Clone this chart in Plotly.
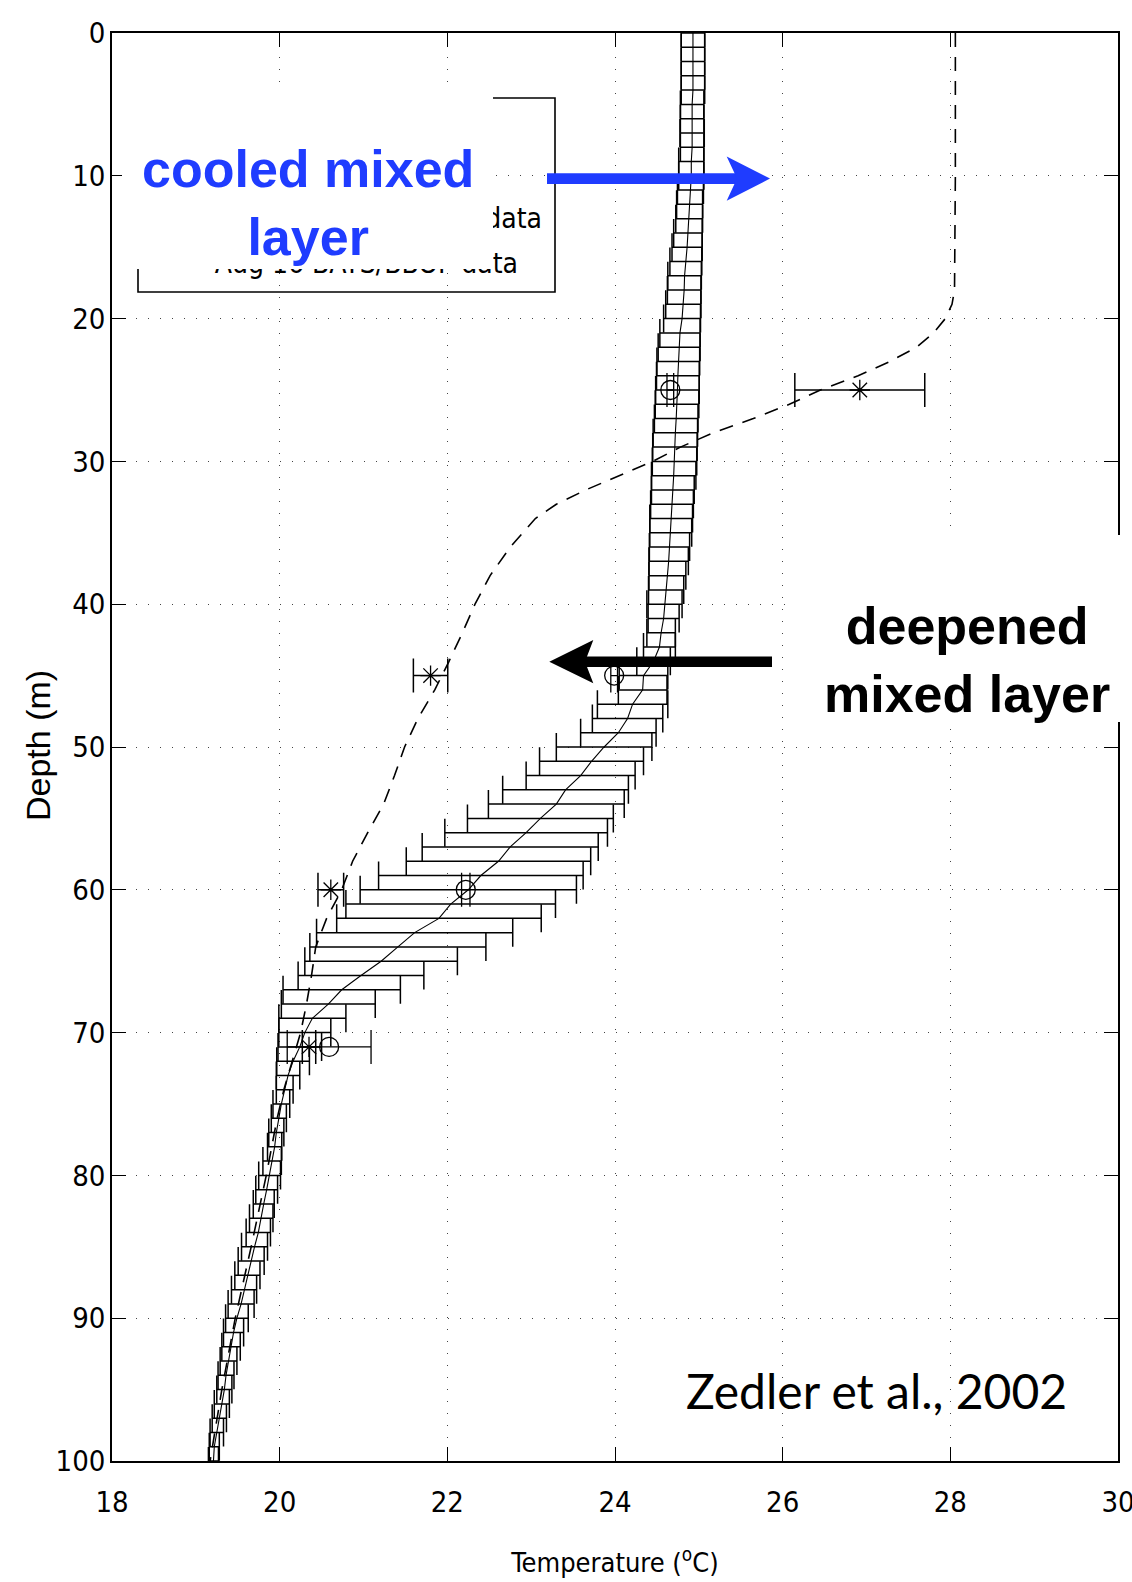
import plotly.graph_objects as go

# ---------------- data ----------------
depth_main = list(range(0, 101))
temp_mean = [24.93, 24.93, 24.93, 24.93, 24.93, 24.92, 24.92, 24.92, 24.92, 24.91,
             24.91, 24.90, 24.89, 24.885, 24.87, 24.86, 24.845, 24.83, 24.825, 24.815,
             24.80, 24.775, 24.765, 24.755, 24.75, 24.745, 24.74, 24.73, 24.72, 24.715,
             24.71, 24.70, 24.69, 24.68, 24.67, 24.665, 24.65, 24.64, 24.625, 24.61,
             24.59, 24.58, 24.55, 24.53, 24.46, 24.34, 24.33, 24.21, 24.15, 24.04,
             23.87, 23.72, 23.59, 23.41, 23.30, 23.11, 22.94, 22.75, 22.61, 22.40,
             22.25, 22.04, 21.90, 21.61, 21.41, 21.21, 20.97, 20.74, 20.58, 20.39,
             20.30, 20.24, 20.16, 20.10, 20.06, 20.02, 19.99, 19.96, 19.94, 19.91,
             19.88, 19.845, 19.81, 19.78, 19.745, 19.70, 19.66, 19.615, 19.575, 19.54,
             19.49, 19.45, 19.42, 19.39, 19.36, 19.34, 19.31, 19.28, 19.25, 19.22,
             19.21]
temp_std = [0.14, 0.14, 0.14, 0.14, 0.14, 0.14, 0.14, 0.145, 0.14, 0.15,
            0.15, 0.155, 0.155, 0.16, 0.17, 0.18, 0.19, 0.20, 0.20, 0.21,
            0.22, 0.24, 0.25, 0.255, 0.255, 0.26, 0.26, 0.26, 0.265, 0.265,
            0.265, 0.265, 0.255, 0.255, 0.255, 0.25, 0.24, 0.235, 0.22, 0.21,
            0.21, 0.185, 0.17, 0.19, 0.20, 0.29, 0.29, 0.42, 0.42, 0.45,
            0.57, 0.62, 0.65, 0.75, 0.81, 0.87, 0.97, 1.05, 1.10, 1.22,
            1.29, 1.25, 1.22, 1.17, 1.05, 0.91, 0.75, 0.70, 0.56, 0.40,
            0.31, 0.26, 0.195, 0.14, 0.10, 0.10, 0.09, 0.09, 0.085, 0.11,
            0.13, 0.13, 0.125, 0.14, 0.145, 0.155, 0.155, 0.15, 0.15, 0.155,
            0.135, 0.12, 0.11, 0.10, 0.095, 0.09, 0.09, 0.085, 0.08, 0.06,
            0.06]

dash_depth = [0, 10, 18, 19, 20, 21, 22, 23, 24, 25, 26, 27, 28, 29, 30, 31, 32, 33, 34,
              36, 38, 40, 42, 44, 46, 48, 50, 52, 54, 56, 58, 60, 62, 64, 66, 68, 70,
              72, 74, 76, 80, 85, 90, 95, 100]
dash_temp = [28.06, 28.06, 28.05, 28.02, 27.94, 27.80, 27.60, 27.28, 26.90, 26.45,
             26.08, 25.65, 25.17, 24.78, 24.45, 24.06, 23.65, 23.30, 23.05,
             22.75, 22.51, 22.33, 22.18, 22.02, 21.85, 21.65, 21.49, 21.37, 21.24,
             21.05, 20.87, 20.74, 20.56, 20.43, 20.38, 20.32, 20.25,
             20.15, 20.05, 19.97, 19.84, 19.66, 19.47, 19.31, 19.17]

circ_depth = [25, 45, 60, 71]
circ_temp = [24.66, 23.99, 22.22, 20.59]
circ_err = [0.04, 0.04, 0.05, 0.50]

star_depth = [25, 45, 60, 71]
star_temp = [26.92, 21.80, 20.61, 20.35]
star_err = [0.775, 0.205, 0.153, 0.08]

legend_labels = ["Aug 12 BATS/BBOP data", "Aug 16 BATS/BBOP data"]

x_ticks = [18, 20, 22, 24, 26, 28, 30]
y_ticks = [0, 10, 20, 30, 40, 50, 60, 70, 80, 90, 100]

# ---------------- geometry helpers ----------------
W, H = 1132, 1582
L, R, T, B = 112, 1118, 33, 1461
XMIN, XMAX, YMIN, YMAX = 18, 30, 0, 100


def px(x):
    return (x - L) / (R - L)


def py(y):
    return (B - y) / (B - T)


def dx(x):  # pixel -> data (temperature)
    return XMIN + (x - L) / (R - L) * (XMAX - XMIN)


def dy(y):  # pixel -> data (depth)
    return YMIN + (y - T) / (B - T) * (YMAX - YMIN)


NARROW = "DejaVu Sans Condensed, Liberation Sans Narrow, Arial Narrow, Liberation Sans, Arial, sans-serif"
HELV = "Liberation Sans, Arial, Helvetica, sans-serif"

fig = go.Figure()

fig.add_trace(go.Scatter(
    x=temp_mean, y=depth_main, mode="lines",
    line=dict(color="black", width=1.1),
    error_x=dict(type="data", array=temp_std, width=14, thickness=1.5, color="black"),
    showlegend=False, hoverinfo="skip"))

fig.add_trace(go.Scatter(
    x=dash_temp, y=dash_depth, mode="lines",
    line=dict(color="black", width=1.6, dash="14px,10px"),
    showlegend=False, hoverinfo="skip"))

fig.add_trace(go.Scatter(
    x=circ_temp, y=circ_depth, mode="markers",
    marker=dict(symbol="circle-open", size=19, color="black", line=dict(width=1.3, color="black")),
    error_x=dict(type="data", array=circ_err, width=17, thickness=1.3, color="black"),
    showlegend=False, hoverinfo="skip"))

fig.add_trace(go.Scatter(
    x=star_temp, y=star_depth, mode="markers",
    marker=dict(symbol="asterisk-open", size=17, color="black", line=dict(width=1.3, color="black")),
    error_x=dict(type="data", array=star_err, width=17, thickness=1.5, color="black"),
    showlegend=False, hoverinfo="skip"))

# legend texts (partly hidden in the reference by the white label box)
fig.add_trace(go.Scatter(
    x=[dx(542), dx(518)], y=[dy(221), dy(266)], mode="text",
    text=legend_labels, textposition="middle left",
    textfont=dict(family=NARROW, size=28, color="black"),
    cliponaxis=False, showlegend=False, hoverinfo="skip"))

# ---------------- shapes ----------------
shapes = []
# legend fill (under the data, over the grid)
shapes.append(dict(type="rect", xref="paper", yref="paper", layer="between",
                   x0=px(138), x1=px(555), y0=py(292), y1=py(98),
                   fillcolor="white", line=dict(width=0)))
# legend border
shapes.append(dict(type="rect", xref="paper", yref="paper", layer="above",
                   x0=px(138), x1=px(555), y0=py(292), y1=py(98),
                   fillcolor="rgba(0,0,0,0)", line=dict(color="black", width=1.6)))
# white box behind "cooled mixed layer"
shapes.append(dict(type="rect", xref="paper", yref="paper", layer="above",
                   x0=px(122), x1=px(493), y0=py(269), y1=py(84),
                   fillcolor="white", line=dict(width=0)))
# white box behind "deepened mixed layer"
shapes.append(dict(type="rect", xref="paper", yref="paper", layer="above",
                   x0=px(787), x1=px(1132), y0=py(722), y1=py(535),
                   fillcolor="white", line=dict(width=0)))
BLUE = "#1f3cff"
# blue arrow (cooled mixed layer)
shapes.append(dict(type="rect", xref="paper", yref="paper", layer="above",
                   x0=px(547), x1=px(740), y0=py(184), y1=py(173.3),
                   fillcolor=BLUE, line=dict(width=0)))
shapes.append(dict(type="path", xref="paper", yref="paper", layer="above",
                   path="M {} {} L {} {} L {} {} L {} {} Z".format(
                       px(770), py(178.6), px(726.7), py(156.5), px(737), py(178.6), px(726.7), py(200.7)),
                   fillcolor=BLUE, line=dict(width=0)))
# black arrow (deepened mixed layer)
shapes.append(dict(type="rect", xref="paper", yref="paper", layer="above",
                   x0=px(582), x1=px(772), y0=py(667), y1=py(656.5),
                   fillcolor="black", line=dict(width=0)))
shapes.append(dict(type="path", xref="paper", yref="paper", layer="above",
                   path="M {} {} L {} {} L {} {} L {} {} Z".format(
                       px(549.3), py(661.7), px(593.3), py(640), px(585), py(661.7), px(593.3), py(683.3)),
                   fillcolor="black", line=dict(width=0)))

# ---------------- annotations ----------------
ann = []
ann.append(dict(xref="paper", yref="paper", x=px(308), y=py(203), xanchor="center", yanchor="middle",
                text="cooled mixed<br>layer", showarrow=False, align="center",
                font=dict(family=HELV, size=52, color=BLUE, weight="bold")))
ann.append(dict(xref="paper", yref="paper", x=px(967), y=py(660), xanchor="center", yanchor="middle",
                text="deepened<br>mixed layer", showarrow=False, align="center",
                font=dict(family=HELV, size=52, color="black", weight="bold")))
ann.append(dict(xref="paper", yref="paper", x=px(876), y=py(1390), xanchor="center", yanchor="middle",
                text="Zedler et al., 2002", showarrow=False,
                font=dict(family="Lato, Noto Sans, sans-serif", size=48, color="black")))
# y axis title
ann.append(dict(xref="paper", yref="paper", x=px(38), y=py(746), xanchor="center", yanchor="middle",
                text="Depth (m)", showarrow=False, textangle=-90,
                font=dict(family=HELV, size=34, color="black")))

fig.update_layout(
    width=W, height=H,
    margin=dict(l=L, r=W - R, t=T, b=H - B, autoexpand=False),
    paper_bgcolor="white", plot_bgcolor="white",
    shapes=shapes, annotations=ann,
    showlegend=False,
)

fig.update_xaxes(
    range=[XMIN - 1e-4, XMAX + 1e-4], tickvals=x_ticks, ticktext=[str(v) for v in x_ticks],
    showline=True, linecolor="black", linewidth=1.6, mirror="ticks",
    ticks="inside", ticklen=14, tickwidth=1.2, tickcolor="black",
    showgrid=True, gridcolor="#444", gridwidth=1.4, griddash="1.4px,10.6px",
    zeroline=False, ticklabelstandoff=14, ticklabeloverflow="allow",
    tickfont=dict(family=NARROW, size=29, color="black"),
    title=dict(text="Temperature (<sup>o</sup>C)", standoff=36,
               font=dict(family=NARROW, size=27, color="black")),
)
fig.update_yaxes(
    range=[YMAX + 1e-4, YMIN - 1e-4], tickvals=y_ticks, ticktext=[str(v) for v in y_ticks],
    showline=True, linecolor="black", linewidth=1.6, mirror="ticks",
    ticks="inside", ticklen=14, tickwidth=1.2, tickcolor="black",
    showgrid=True, gridcolor="#444", gridwidth=1.4, griddash="1.4px,10.6px",
    zeroline=False, ticklabelstandoff=-1, ticklabeloverflow="allow",
    tickfont=dict(family=NARROW, size=29, color="black"),
)

fig.write_html("out.html")
